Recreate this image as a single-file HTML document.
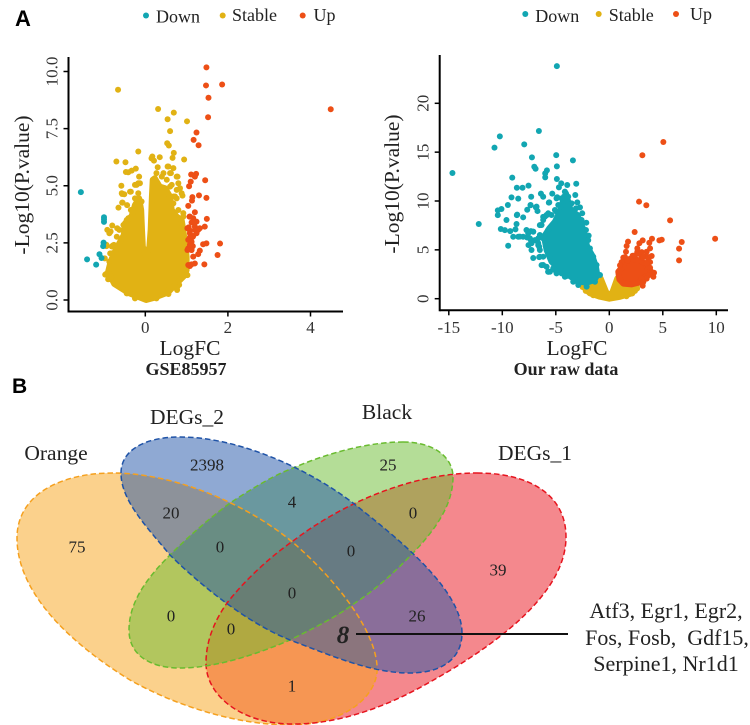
<!DOCTYPE html>
<html lang="en">
<head>
<meta charset="utf-8">
<title>Volcano plots and Venn diagram</title>
<style>
html,body{margin:0;padding:0;background:#fff;}
svg{display:block;}
text{font-family:"Liberation Serif",serif;fill:#222;}
.panel{font-family:"Liberation Sans",sans-serif;font-weight:bold;fill:#000;}
.num{font-size:17px;text-anchor:middle;dominant-baseline:central;}
.vl{font-size:21.5px;text-anchor:middle;}
.tick{font-size:17px;fill:#333;text-anchor:middle;}
.title{font-size:21.5px;text-anchor:middle;}
.sub{font-size:18px;font-weight:bold;text-anchor:middle;}
.leg{font-size:18px;}
.fill{stroke:none;fill-opacity:.5;}
.line{fill:none;stroke-width:1.5;stroke-dasharray:5.5 3;}
</style>
</head>
<body>
<svg id="fig" xmlns="http://www.w3.org/2000/svg" width="750" height="725" viewBox="0 0 750 725">
  <text class="panel" x="15" y="26" font-size="22">A</text>
  <text class="panel" x="12" y="393" font-size="21">B</text>

  <g>
    <circle cx="146" cy="15.5" r="3" fill="#12a6b2"/>
    <text class="leg" x="156" y="22.5">Down</text>
    <circle cx="222.7" cy="15.5" r="3" fill="#e1b214"/>
    <text class="leg" x="232" y="21">Stable</text>
    <circle cx="302.7" cy="15.5" r="3" fill="#ed4f16"/>
    <text class="leg" x="313.5" y="21">Up</text>
  </g>
  <g>
    <circle cx="525.3" cy="14" r="3" fill="#12a6b2"/>
    <text class="leg" x="535.3" y="22">Down</text>
    <circle cx="598.7" cy="14" r="3" fill="#e1b214"/>
    <text class="leg" x="608.7" y="21">Stable</text>
    <circle cx="676" cy="14" r="3" fill="#ed4f16"/>
    <text class="leg" x="690" y="20">Up</text>
  </g>

  <g id="leftPlot"></g>
  <g id="rightPlot"></g>

  <text class="title" x="190" y="355">LogFC</text>
  <text class="sub" x="186" y="375">GSE85957</text>
  <text class="title" transform="translate(29,185) rotate(-90)">-Log10(P.value)</text>
  <text class="title" x="577" y="355">LogFC</text>
  <text class="sub" x="566" y="375">Our raw data</text>
  <text class="title" transform="translate(399,184) rotate(-90)">-Log10(P.value)</text>

  <g>
    <path class="fill" fill="#e9111b" d="M477 473C530 473 566 495 566 537C566 590 505 640 430 682C390 705 340 725 290 724C240 723 206 695 206 663C206 640 215 620 227 603C245 580 270 557 293 541C340 505 410 473 477 473Z"/>
    <path class="fill" fill="#f7a319" d="M113 473C60 473 17 495 17 538C17 590 65 640 130 680C180 708 240 725 290 725C345 725 380 695 377 665C373 620 320 565 290 540C240 500 170 473 113 473Z"/>
    <path class="fill" fill="#69bb2f" d="M403 442C435 442 453 458 453 477C453 505 435 530 413 553C395 572 375 590 355 603C335 618 310 630 290 640C255 655 215 668 180 668C150 668 129 655 129 630C129 600 150 575 170 555C190 535 210 518 230 503C250 490 272 476 293 468C330 452 370 442 403 442Z"/>
    <path class="fill" fill="#1f53a7" d="M121 473C121 450 145 437 180 437C240 437 310 470 353 503C400 540 462 590 462 633C462 660 440 673 410 673C370 673 330 655 290 640C240 620 190 575 170 555C145 525 121 500 121 473Z"/>
    <path class="line" stroke="#f5a01e" d="M113 473C60 473 17 495 17 538C17 590 65 640 130 680C180 708 240 725 290 725C345 725 380 695 377 665C373 620 320 565 290 540C240 500 170 473 113 473Z"/>
    <path class="line" stroke="#e6141e" d="M477 473C530 473 566 495 566 537C566 590 505 640 430 682C390 705 340 725 290 724C240 723 206 695 206 663C206 640 215 620 227 603C245 580 270 557 293 541C340 505 410 473 477 473Z"/>
    <path class="line" stroke="#69bb2f" d="M403 442C435 442 453 458 453 477C453 505 435 530 413 553C395 572 375 590 355 603C335 618 310 630 290 640C255 655 215 668 180 668C150 668 129 655 129 630C129 600 150 575 170 555C190 535 210 518 230 503C250 490 272 476 293 468C330 452 370 442 403 442Z"/>
    <path class="line" stroke="#1f53a7" d="M121 473C121 450 145 437 180 437C240 437 310 470 353 503C400 540 462 590 462 633C462 660 440 673 410 673C370 673 330 655 290 640C240 620 190 575 170 555C145 525 121 500 121 473Z"/>

    <text class="vl" x="56" y="460">Orange</text>
    <text class="vl" x="187" y="424">DEGs_2</text>
    <text class="vl" x="387" y="419">Black</text>
    <text class="vl" x="535" y="460">DEGs_1</text>

    <text class="num" x="77" y="547">75</text>
    <text class="num" x="207" y="465">2398</text>
    <text class="num" x="171" y="513">20</text>
    <text class="num" x="220" y="547">0</text>
    <text class="num" x="171" y="616">0</text>
    <text class="num" x="231" y="629">0</text>
    <text class="num" x="292" y="593">0</text>
    <text class="num" x="292" y="686">1</text>
    <text class="num" x="292" y="502">4</text>
    <text class="num" x="388" y="465">25</text>
    <text class="num" x="413" y="513">0</text>
    <text class="num" x="351" y="551">0</text>
    <text class="num" x="498" y="570">39</text>
    <text class="num" x="417" y="616">26</text>
    <text x="343" y="643" font-size="25" font-weight="bold" font-style="italic" text-anchor="middle">8</text>
    <line x1="356" y1="634" x2="568" y2="634" stroke="#111" stroke-width="2"/>
    <text x="666" y="618" font-size="22" text-anchor="middle">Atf3, Egr1, Egr2,</text>
    <text x="667" y="645" font-size="22" text-anchor="middle" xml:space="preserve">Fos, Fosb,  Gdf15,</text>
    <text x="666" y="671" font-size="22" text-anchor="middle">Serpine1, Nr1d1</text>
  </g>
</svg>
<script>
// Left volcano (GSE85957): values
const leftXTicks = [0, 2, 4];
const leftXLabels = ["0", "2", "4"];
const leftYTicks = [0, 2.5, 5, 7.5, 10];
const leftYLabels = ["0.0", "2.5", "5.0", "7.5", "10.0"];
const leftDown = [[-1.56,4.72],[-1,3.62],[-1,3.53],[-1,3.42],[-1.01,2.51],[-1.02,2.36],[-1.11,2],[-1.06,1.84],[-1.41,1.78],[-1.19,1.55]];
const leftUp = [[1.48,10.18],[1.47,9.39],[1.86,9.43],[1.53,8.85],[4.49,8.35],[1.52,8],[1.24,7.33],[1.17,7.01],[1.29,6.77],[1.11,5.49],[1.23,5.52],[1.2,5.4],[1.1,5.18],[1.45,5.24],[1.06,4.98],[1.3,4.58],[1.14,4.5],[1.13,4.35],[1.48,4.47],[1.04,4.12],[1.2,3.84],[1.07,3.65],[1.49,3.55],[1.16,3.58],[1.24,3.43],[1.12,3.39],[1.44,3.21],[1.32,3.14],[1.2,3.07],[1.05,3.18],[1.08,3.04],[1.24,2.92],[1.16,2.8],[1.08,2.74],[1.12,2.55],[1.4,2.44],[1.48,2.48],[1.81,2.47],[1.15,2.36],[1.04,2.26],[1.12,2.19],[1.32,2.16],[1.28,2.01],[1.75,1.97],[1.16,1.9],[1.43,1.56],[1.2,1.6],[1.12,1.56],[1.08,1.49],[1.08,3.65],[1.02,3.14],[1.08,2.92],[1.04,2.63],[1.15,2.77],[1.08,2.41],[1.02,2.19],[1.12,2.19],[1.2,3.21],[1.28,3.07],[1.16,3.43],[1.04,1.53]];
const leftStable = [[-.66,9.2],[.31,8.36],[.69,8.2],[.54,7.91],[1.01,7.82],[.6,7.39],[.53,6.86],[.57,6.76],[-.17,6.5],[.69,6.44],[.17,6.28],[.35,6.25],[.94,6.15],[-.7,6.06],[-.48,6.03],[.21,6.1],[.66,6.22],[-.23,5.75],[-.33,5.66],[-.47,5.6],[-.41,5.59],[.54,5.84],[.68,5.77],[.78,5.4],[.62,5.55],[-.15,5.4],[-.58,5],[-.25,5.04],[-.17,5.11],[-.35,4.74],[-.56,4.64],[-.51,4.63],[.9,4.57],[.68,4.53],[.8,5.11],[-.65,4.04],[-.56,4.26],[-.44,4.15],[-.8,3.26],[-.68,3.14],[-.92,3.07],[-.84,3],[-.94,2.36],[-.79,2.38],[-.69,2.26],[-.85,2.04],[-.97,1.11],[-.9,.91],[.98,1.09],[.77,.44],[.82,.66],[.56,.44],[-.87,2.92],[-.94,2.41],[-.81,2.34],[-.98,1.82],[-.37,4.74],[-.21,5.04],[-.13,5.11],[-.57,4.67],[-.55,4.26],[.64,5.04],[.76,5.4],[.6,5.55],[.56,5.84],[.3,5.81],[.15,6.2],[.27,5.55],[.84,4.89],[.76,4.45],[.88,4.67],[.92,3.65],[-.61,.58],[-.45,.29],[-.25,.07],[.27,.07],[.56,.26],[.77,.55],[-.84,.91],[-.95,1.14],[1.02,1.09],[-.17,4.16],[-.25,4.45],[-.17,4.67],[-.45,3.5],[-.53,3.28],[-.41,3.58],[-.09,4.31],[-.35,3.94],[-.29,3.87],[-.63,3.07],[-.69,2.77],[-.76,2.41],[-.81,2.04],[-.87,1.68],[.6,4.96],[.72,4.53],[.8,3.94],[.92,3.8],[.76,4.82],[.52,5.26],[.4,5.4],[.68,4.23],[.88,3.36],[.44,5.55]];
const leftStableDense = [[.02,0],[-.4,.3],[-.75,.7],[-.9,1.24],[-.84,1.68],[-.76,2.04],[-.63,2.48],[-.52,2.85],[-.49,3.36],[-.33,3.68],[-.25,4.16],[-.15,4.45],[-.1,3.94],[-.08,3.07],[-.06,2.34],[.02,1.9],[.1,2.34],[.13,3.07],[.16,4.53],[.18,5.26],[.23,5.33],[.35,4.96],[.48,4.89],[.6,4.53],[.64,3.94],[.76,3.65],[.88,3.5],[.92,3.07],[.96,2.48],[1,1.9],[1,1.31],[.96,1.09],[.76,.73],[.55,.33],[.22,.1]];

// Right volcano (our raw data): values
const rightXTicks = [-15, -10, -5, 0, 5, 10];
const rightXLabels = ["-15", "-10", "-5", "0", "5", "10"];
const rightYTicks = [0, 5, 10, 15, 20];
const rightYLabels = ["0", "5", "10", "15", "20"];
const rightDown = [[-4.9,23.8],[-6.58,17.17],[-10.23,16.62],[-10.73,15.46],[-7.95,15.8],[-4.96,14.7],[-3.4,14.16],[-7.23,14.47],[-7.01,13.5],[-6.89,13.3],[-4.9,13.55],[-14.66,12.86],[-5.83,13.14],[-5.99,12.83],[-5.99,12.42],[-9.07,12.39],[-4.9,12.25],[-3.09,11.77],[-7.55,11.57],[-8.64,11.36],[-8.11,11.36],[-8.51,10.24],[-9.14,10.37],[-7.3,10.44],[-6.39,10.75],[-6.18,10.44],[-5.33,10.75],[-4.49,11.81],[-4.71,11.4],[-3.93,11.64],[-3.18,10.61],[-2.99,9.86],[-2.74,9.35],[-2.53,8.74],[-2.15,7.78],[-1.93,6.45],[-5.61,9.86],[-4.93,10.27],[-9.48,9.59],[-7.36,9.56],[-7.67,9.11],[-6.86,9.35],[-6.71,8.97],[-10.08,9.18],[-10.42,9.04],[-10.42,8.56],[-8.64,8.56],[-8.05,8.33],[-9.61,8.05],[-12.2,7.64],[-8.67,7.64],[-10.14,7.13],[-9.76,7.02],[-9.26,6.92],[-8.77,7.09],[-8.98,6.34],[-8.51,6.34],[-8.05,6.34],[-7.33,6.92],[-7.11,6.85],[-7.58,6.69],[-7.67,6.27],[-9.45,5.42],[-7.33,6],[-7.55,5.49],[-7.27,4.98],[-7.11,4.16],[-6.55,4.26],[-6.64,5.49],[-6.49,4.98],[-6.33,3.44],[-5.86,3.27],[-5.71,2.76],[-5.08,2.93],[-4.46,2.59],[-3.99,2.32],[-6.18,8.38],[-5.86,8.56],[-6.49,7.53],[-6.49,4.3],[-5.55,2.76],[-6.55,5.32],[-7.27,5.67],[-6.64,6.18],[-7.11,6.86],[-6.33,7.54],[-6.02,8.4],[-5.71,8.74],[-4.93,8.91],[-4.55,9.42],[-4.87,10.38],[-4.24,10.44],[-5.65,9.83],[-6.8,9.42],[-7.36,9.59],[-8.61,8.6],[-6.39,7.54],[-6.18,8.05],[-5.86,8.57],[-5.4,8.57],[-5.08,9.08],[-4.77,9.59],[-4.46,10.27],[-4.15,10.96],[-3.84,10.44],[-3.52,9.76],[-3.12,9.25],[-6.49,6.52],[-6.64,5.67],[-6.18,4.3],[-6.18,3.45],[-5.71,2.76],[-5.24,3.11],[-4.93,2.59],[-4.15,2.25],[-3.37,1.74],[-2.9,1.4],[-2.12,1.23],[-1.34,1.74],[-.87,2.42],[-1.19,3.45],[-1.5,4.3],[-1.81,5.15],[-1.97,6],[-2.18,7.03],[-2.59,8.05],[-6.18,6.18],[-5.71,7.03],[-6.96,6],[-7.42,6.18],[-8.36,6.35],[-7.74,7.03]];
const rightDownDense = [[-4.05,10.78],[-3.62,9.08],[-2.99,8.57],[-2.5,7.3],[-2.06,5.32],[-1.62,4.47],[-1.25,3.28],[-1.12,2.42],[-1.4,1.91],[-2.12,1.64],[-2.9,1.74],[-3.84,2.42],[-4.62,2.94],[-5.4,3.79],[-5.86,4.98],[-6.1,6.35],[-5.61,7.2],[-5.08,7.88],[-4.62,8.91],[-4.3,10.1]];
const rightStable = [[2.15,.55],[-2.5,1.2],[2.6,1.05],[-2.2,.8],[-1.5,.35],[1.6,.25],[2.4,.8]];
const rightStableDense = [[-.81,2.08],[-.31,.72],[0,.27],[.31,.72],[.75,2.08],[2.25,1.4],[2.56,1.23],[2.09,.55],[1,.2],[0,0],[-.87,.2],[-1.81,.55],[-2.28,1.06]];
const rightUp = [[5.05,16.04],[3.09,14.68],[2.78,9.93],[3.46,9.56],[5.68,8.02],[2.37,6.83],[9.89,6.14],[6.77,5.8],[6.52,5.12],[6.52,3.92],[4.9,6.04],[4.68,5.97],[3.99,6.14],[3.74,5.73],[3.12,5.97],[2.81,5.67],[1.75,5.84],[1.62,5.39],[1.56,4.81],[1.31,4.2],[2.18,4.4],[2.62,5.15],[2.62,4.81],[3.81,5.15],[3.49,4.81],[3.96,4.37],[3.65,3.96],[3.03,4.23],[3.43,4.37],[4.18,2.66],[4.12,2.25],[3.81,2.94],[3.65,3.28],[3.12,1.33],[3.34,2.25],[1.93,4.09],[2.4,4.43],[2.71,4.6],[3.03,4.77],[3.18,4.26],[3.65,4.26],[3.81,3.75],[3.49,3.58],[3.81,3.17],[3.96,2.73],[3.65,2.39],[3.49,2.05],[3.03,2.05],[3.18,1.71],[1.47,4.26],[1.68,3.92],[1.15,3.75],[1,3.41]];
const rightUpDense = [[1.25,3.28],[1.47,3.79],[2.25,4.05],[2.87,3.9],[3.45,3.55],[3.7,2.76],[3.3,2.08],[2.71,1.64],[2.09,1.47],[1.31,1.54],[.94,1.98],[.84,2.76]];

const SVGNS = "http://www.w3.org/2000/svg";
const TEAL = "#12a6b2", GOLD = "#e1b214", RED = "#ed4f16";
const R = 3;

const leftXScale = v => 145.3 + 41.3 * v;
const leftYScale = v => 300 - 22.85 * v;
const rightXScale = v => 609.3 + 10.7 * v;
const rightYScale = v => 298.7 - 9.77 * v;

function shape(parent, tag, attrs) {
  const el = document.createElementNS(SVGNS, tag);
  for (const k in attrs) el.setAttribute(k, attrs[k]);
  parent.appendChild(el);
  return el;
}

function drawPoints(parent, pts, xs, ys, color, name) {
  pts.forEach(p => {
    const el = shape(parent, "circle", { cx: xs(p[0]), cy: ys(p[1]), r: R, fill: color });
    
    
  });
}

function drawDense(parent, pts, xs, ys, color, name) {
  const el = shape(parent, "polygon", {
    points: pts.map(p => xs(p[0]) + "," + ys(p[1])).join(" "),
    fill: color, stroke: color, "stroke-width": R * 2, "stroke-linejoin": "round"
  });
  
  
}

function drawAxes(parent, cfg) {
  const yAxis = shape(parent, "line", { x1: cfg.x0, x2: cfg.x0, y1: cfg.yTop, y2: cfg.y0 + 1, stroke: "#000", "stroke-width": 2 });
  
  
  const xAxis = shape(parent, "line", { x1: cfg.x0, x2: cfg.xRight, y1: cfg.y0, y2: cfg.y0, stroke: "#000", "stroke-width": 2 });
  
  
  cfg.xTicks.forEach((t, i) => {
    const m = shape(parent, "line", { x1: cfg.xs(t), x2: cfg.xs(t), y1: cfg.y0, y2: cfg.y0 + 5, stroke: "#000", "stroke-width": 1.5 });
    
    
    const l = shape(parent, "text", { class: "tick", x: cfg.xs(t), y: 333 });
    l.textContent = cfg.xLabels[i];
    
    
  });
  cfg.yTicks.forEach((t, i) => {
    const m = shape(parent, "line", { x1: cfg.x0 - 5, x2: cfg.x0, y1: cfg.ys(t), y2: cfg.ys(t), stroke: "#000", "stroke-width": 1.5 });
    
    
    const l = shape(parent, "text", { class: "tick", transform: "translate(" + (cfg.x0 - 11) + "," + cfg.ys(t) + ") rotate(-90)" });
    l.textContent = cfg.yLabels[i];
    
    
  });
}

const leftG = document.getElementById("leftPlot");
drawDense(leftG, leftStableDense, leftXScale, leftYScale, GOLD, "left-stable-dense-cloud");
drawPoints(leftG, leftStable, leftXScale, leftYScale, GOLD, "left-stable-point");
drawPoints(leftG, leftDown, leftXScale, leftYScale, TEAL, "left-down-point");
drawPoints(leftG, leftUp, leftXScale, leftYScale, RED, "left-up-point");
drawAxes(leftG, { x0: 68.5, y0: 311.5, yTop: 57, xRight: 343, xs: leftXScale, ys: leftYScale, xTicks: leftXTicks, xLabels: leftXLabels, yTicks: leftYTicks, yLabels: leftYLabels });

const rightG = document.getElementById("rightPlot");
drawDense(rightG, rightStableDense, rightXScale, rightYScale, GOLD, "right-stable-dense-cloud");
drawPoints(rightG, rightStable, rightXScale, rightYScale, GOLD, "right-stable-point");
drawDense(rightG, rightDownDense, rightXScale, rightYScale, TEAL, "right-down-dense-cloud");
drawPoints(rightG, rightDown, rightXScale, rightYScale, TEAL, "right-down-point");
drawDense(rightG, rightUpDense, rightXScale, rightYScale, RED, "right-up-dense-cloud");
drawPoints(rightG, rightUp, rightXScale, rightYScale, RED, "right-up-point");
drawAxes(rightG, { x0: 439.7, y0: 310.3, yTop: 55, xRight: 728, xs: rightXScale, ys: rightYScale, xTicks: rightXTicks, xLabels: rightXLabels, yTicks: rightYTicks, yLabels: rightYLabels });
</script>
</body>
</html>
